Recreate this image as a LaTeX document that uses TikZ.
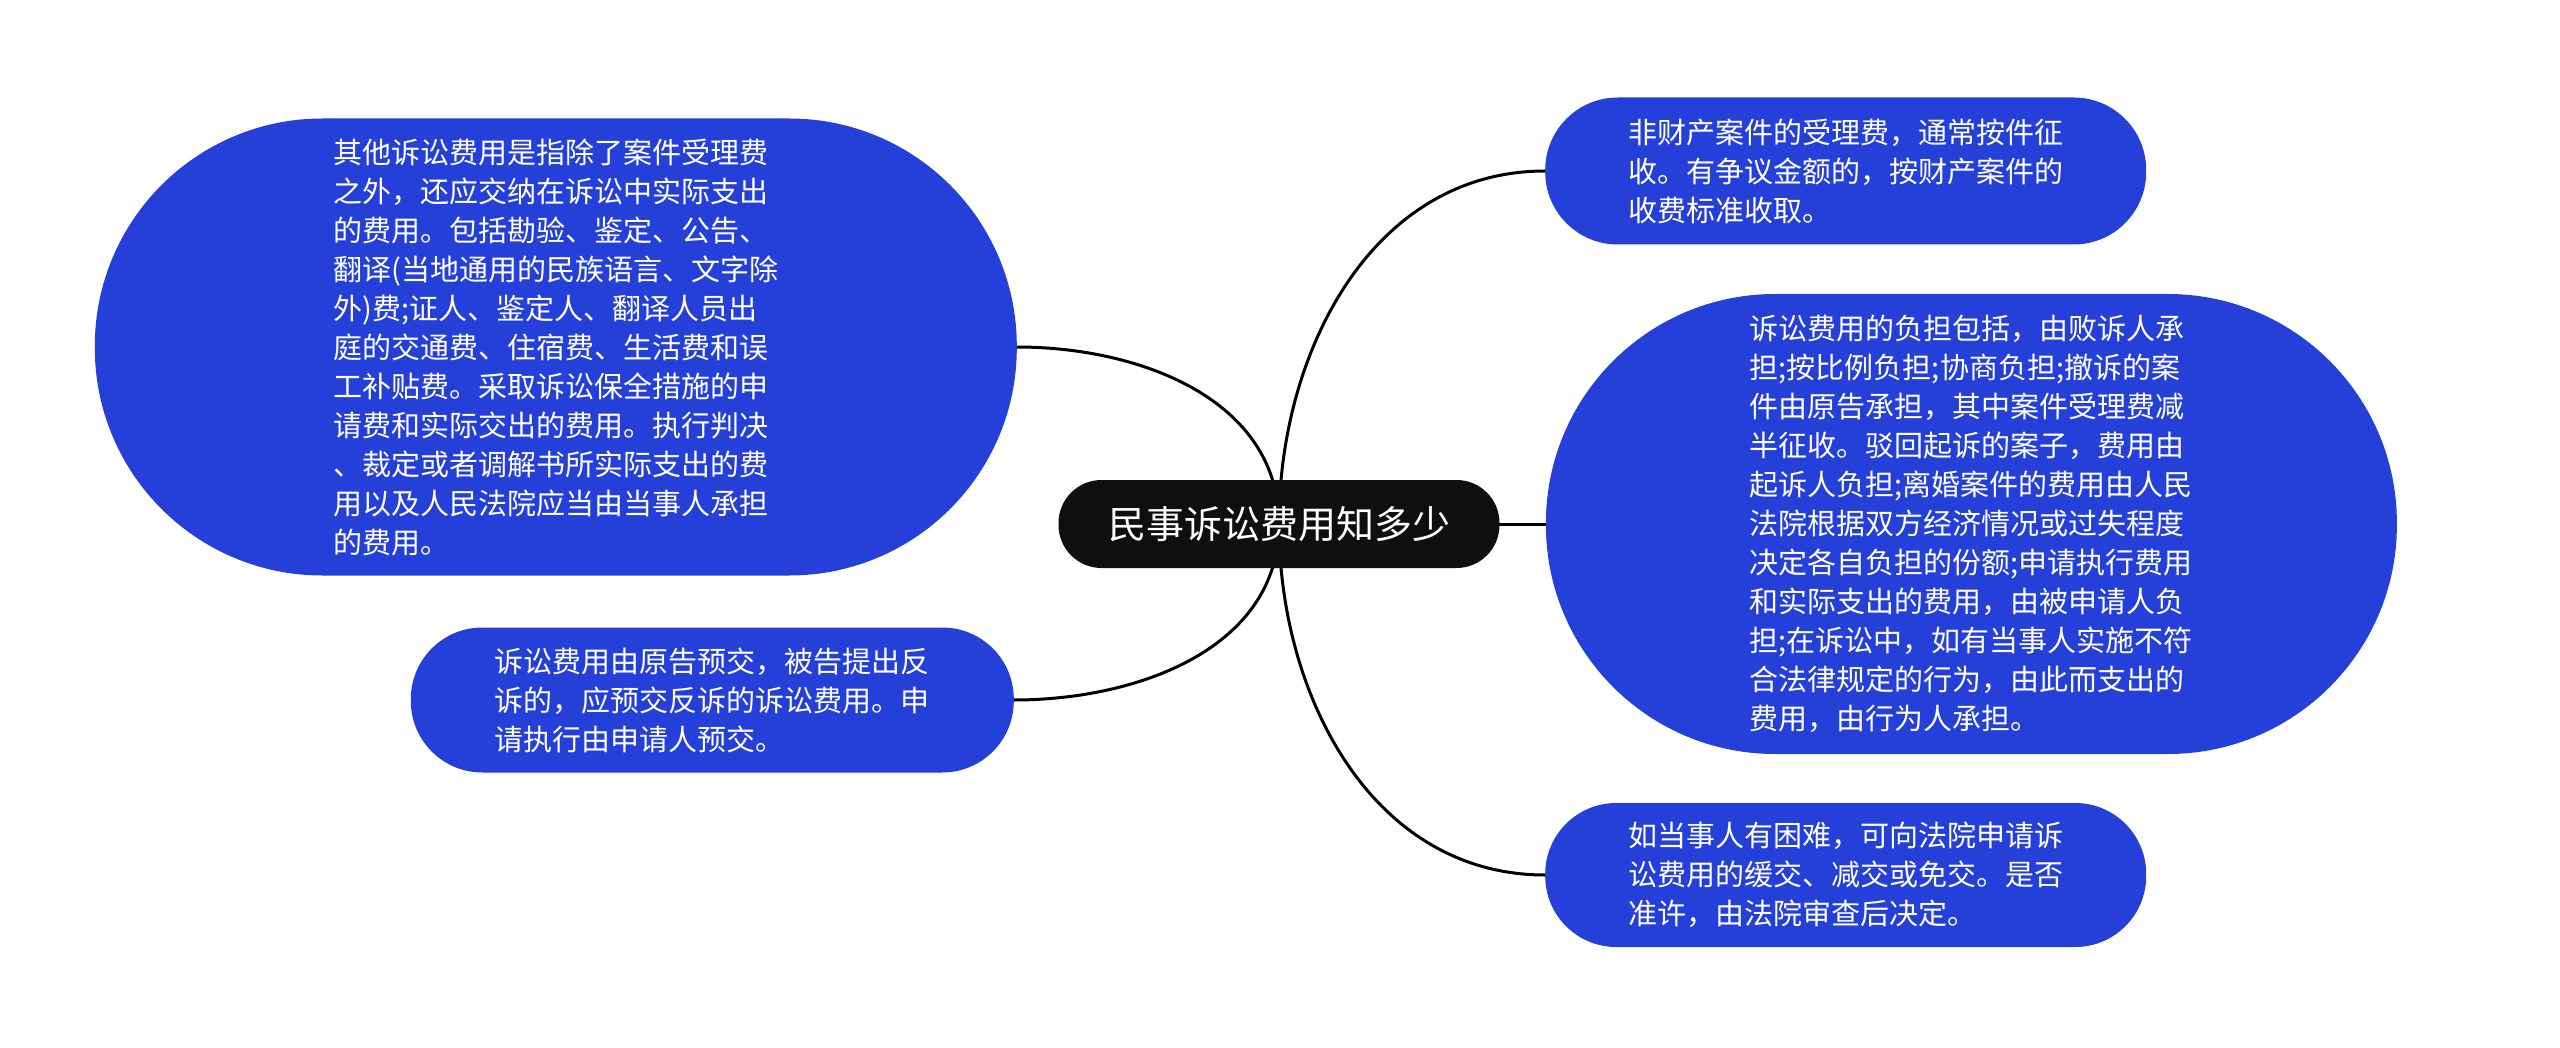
\documentclass[tikz,border=0pt]{standalone}
\usepackage{fontspec}
\setmainfont{Noto Sans CJK SC}
\usepackage{tikz}
\usetikzlibrary{positioning, backgrounds}
\definecolor{leafblue}{RGB}{37,64,216}
\definecolor{rootblack}{RGB}{15,15,15}
\tikzset{
  rootbox/.style = {rectangle, fill=rootblack, text=white, minimum width=441pt, minimum height=88pt, rounded corners=43pt, font=\fontsize{38}{40}\selectfont, inner sep=0pt},
  leafbox/.style 2 args = {rectangle, fill=leafblue, text=white, align=left, minimum width=#1, minimum height=#2, rounded corners=#2/2-1pt, font=\fontsize{29}{39}\selectfont, inner sep=0pt},
  link/.style = {line width=3pt, black}
}

\begin{document}
\begin{tikzpicture}[x=1pt, y=1pt]
\useasboundingbox (0,0) rectangle (2560,-1048);

% Root
\node[rootbox] (fee0) at (1279,-524) {民事诉讼费用知多少};

% Left side
\node[leafbox={922pt}{457pt}, anchor=east] (fee1) at (1017,-347) {其他诉讼费用是指除了案件受理费\\
之外，还应交纳在诉讼中实际支出\\
的费用。包括勘验、鉴定、公告、\\
翻译(当地通用的民族语言、文字除\\
外)费;证人、鉴定人、翻译人员出\\
庭的交通费、住宿费、生活费和误\\
工补贴费。采取诉讼保全措施的申\\
请费和实际交出的费用。执行判决\\
、裁定或者调解书所实际支出的费\\
用以及人民法院应当由当事人承担\\
的费用。};
\node[leafbox={603pt}{145pt}, anchor=east] (fee2) at (1014,-700) {诉讼费用由原告预交，被告提出反\\
诉的，应预交反诉的诉讼费用。申\\
请执行由申请人预交。};

% Right side
\node[leafbox={601pt}{147pt}, anchor=west] (fee3) at (1545,-171) {非财产案件的受理费，通常按件征\\
收。有争议金额的，按财产案件的\\
收费标准收取。};
\node[leafbox={851pt}{460pt}, right=46pt of fee0] (fee4) {诉讼费用的负担包括，由败诉人承\\
担;按比例负担;协商负担;撤诉的案\\
件由原告承担，其中案件受理费减\\
半征收。驳回起诉的案子，费用由\\
起诉人负担;离婚案件的费用由人民\\
法院根据双方经济情况或过失程度\\
决定各自负担的份额;申请执行费用\\
和实际支出的费用，由被申请人负\\
担;在诉讼中，如有当事人实施不符\\
合法律规定的行为，由此而支出的\\
费用，由行为人承担。};
\node[leafbox={601pt}{144pt}, anchor=west] (fee5) at (1545,-875) {如当事人有困难，可向法院申请诉\\
讼费用的缓交、减交或免交。是否\\
准许，由法院审查后决定。};

% ----- LINKS -----
\begin{scope}[on background layer]
\draw[link] (fee0.center) to[out=90, in=0] (fee1.east);
\draw[link] (fee0.center) to[out=-90, in=0] (fee2.east);
\draw[link] (fee0.center) to[out=90, in=180] (fee3.west);
\draw[link] (fee0.center) -- (fee4.west);
\draw[link] (fee0.center) to[out=-90, in=180] (fee5.west);
\end{scope}

\end{tikzpicture}
\end{document}
